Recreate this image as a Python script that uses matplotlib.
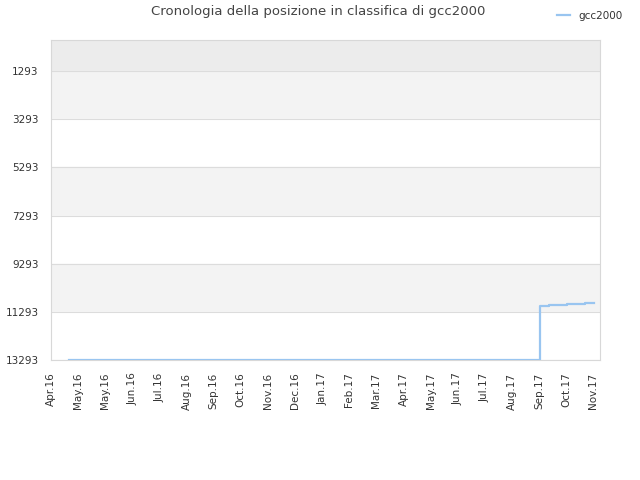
import datetime as dt

import matplotlib
matplotlib.use("Agg")
import matplotlib.dates as mdates
from matplotlib import pyplot as plt

# data
dates = ["2016-04-21", "2017-09-06", "2017-09-07", "2017-09-17",
         "2017-10-06", "2017-10-25", "2017-11-04"]
ranks = [13293, 13293, 11033, 10990, 10950, 10910, 10910]
series_name = "gcc2000"

y_ticks = [1293, 3293, 5293, 7293, 9293, 11293, 13293]
tick_start = dt.date(2016, 4, 2)
tick_step_days = 29
tick_labels = ["Apr.16", "May.16", "May.16", "Jun.16", "Jul.16", "Aug.16",
               "Sep.16", "Oct.16", "Nov.16", "Dec.16", "Jan.17", "Feb.17",
               "Mar.17", "Apr.17", "May.17", "Jun.17", "Jul.17", "Aug.17",
               "Sep.17", "Oct.17", "Nov.17"]

x = [dt.datetime.strptime(d, "%Y-%m-%d") for d in dates]
tick_dates = [tick_start + dt.timedelta(days=tick_step_days * i) for i in range(len(tick_labels))]

fig = plt.figure(figsize=(6.4, 4.8), dpi=100)
ax = fig.add_axes([51 / 640, 1 - 360 / 480, 549 / 640, 320 / 480])

y_top, y_bottom = 1, 13293
# alternating bands
ax.axhspan(y_top, 1293, color="#ececec", zorder=0)
band_cols = ["#f3f3f3", "#ffffff"]
for i in range(len(y_ticks) - 1):
    ax.axhspan(y_ticks[i], y_ticks[i + 1], color=band_cols[i % 2], zorder=0)
for yt in y_ticks:
    ax.axhline(yt, color="#dcdcdc", lw=0.8, zorder=1)

ax.plot(x, ranks, drawstyle="steps-post", color="#99c5f0", lw=1.6, label=series_name, zorder=3)

ax.set_ylim(y_bottom, y_top)
ax.set_xlim(dt.datetime(2016, 4, 2), dt.datetime(2017, 11, 10))
ax.set_yticks(y_ticks)
ax.set_yticklabels([str(v) for v in y_ticks])
ax.set_xticks([mdates.date2num(d) for d in tick_dates])
ax.set_xticklabels(tick_labels, rotation=90)
ax.tick_params(axis="y", length=0, labelsize=7.5, colors="#333333", pad=9)
ax.tick_params(axis="x", length=0, labelsize=7.5, colors="#333333", pad=9)

for s in ax.spines.values():
    s.set_color("#d8d8d8")

fig.text(0.497, 0.99, "Cronologia della posizione in classifica di gcc2000",
         ha="center", va="top", fontsize=9.5, color="#444444")
fig.legend(loc="upper right", bbox_to_anchor=(0.987, 0.997), frameon=False,
           fontsize=7.5, handlelength=1.2, labelcolor="#333333")

fig.savefig("out.png", dpi=100)
